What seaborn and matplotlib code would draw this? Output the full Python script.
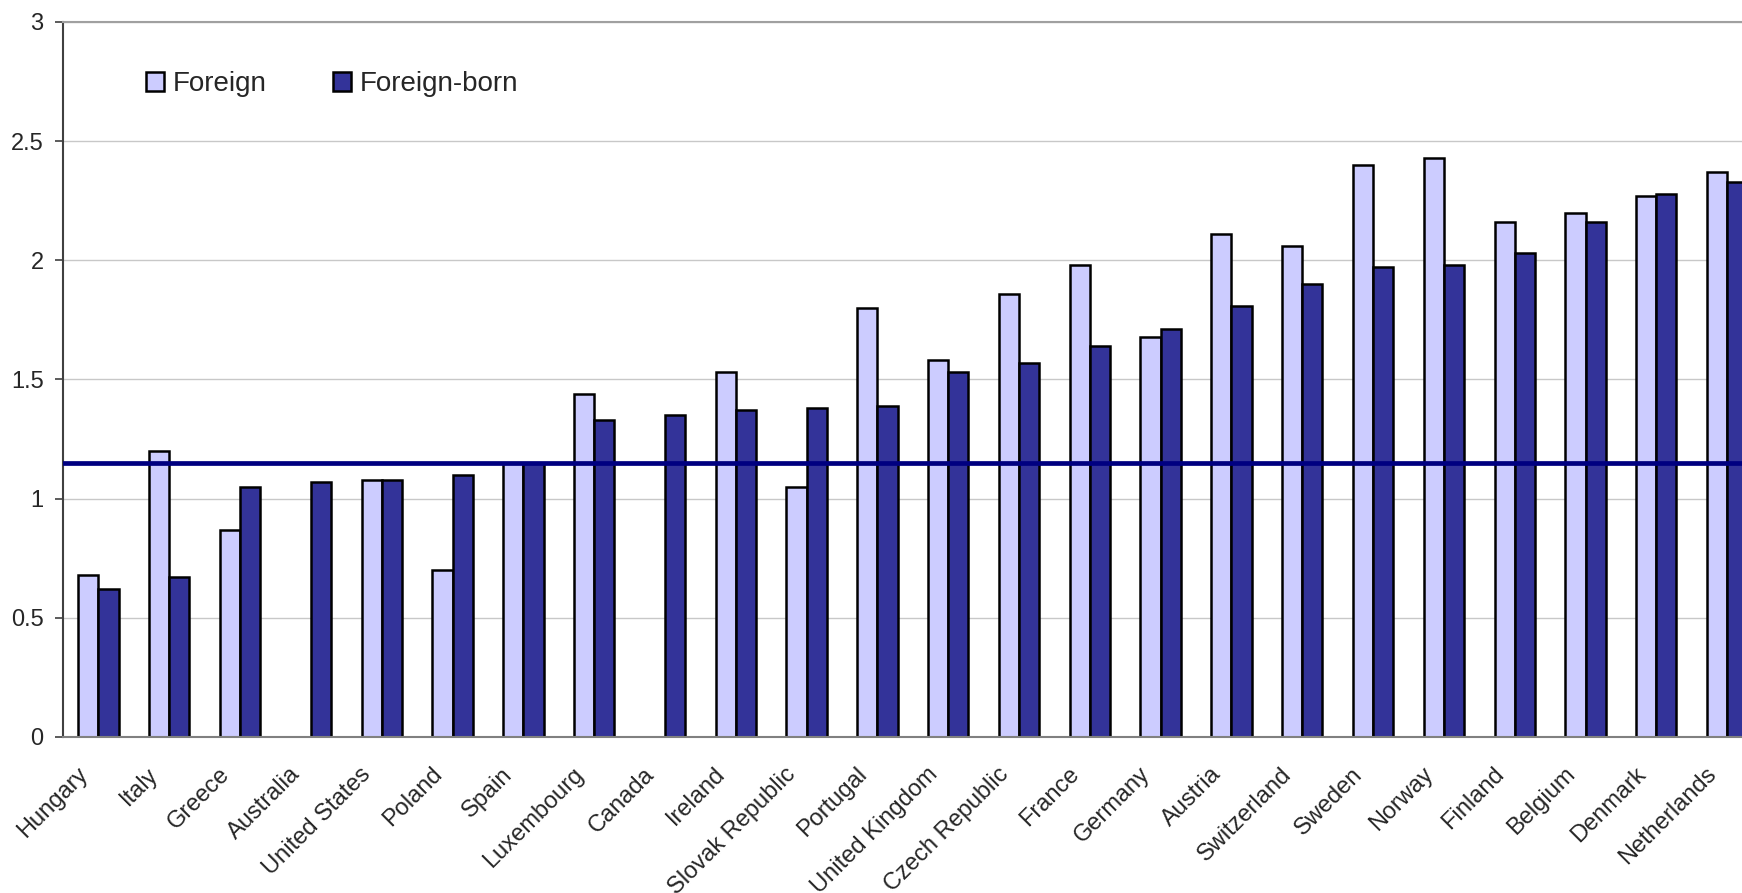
import pandas as pd
import numpy as np
import seaborn as sns
import matplotlib.pyplot as plt
from matplotlib.transforms import ScaledTranslation

countries = ['Hungary', 'Italy', 'Greece', 'Australia', 'United States', 'Poland',
             'Spain', 'Luxembourg', 'Canada', 'Ireland', 'Slovak Republic', 'Portugal',
             'United Kingdom', 'Czech Republic', 'France', 'Germany', 'Austria',
             'Switzerland', 'Sweden', 'Norway', 'Finland', 'Belgium', 'Denmark',
             'Netherlands']
foreign = [0.68, 1.20, 0.87, np.nan, 1.08, 0.70, 1.15, 1.44, np.nan, 1.53,
           1.05, 1.80, 1.58, 1.86, 1.98, 1.68, 2.11, 2.06, 2.40, 2.43,
           2.16, 2.20, 2.27, 2.37]
foreign_born = [0.62, 0.67, 1.05, 1.07, 1.08, 1.10, 1.15, 1.33, 1.35, 1.37,
                1.38, 1.39, 1.53, 1.57, 1.64, 1.71, 1.81, 1.90, 1.97, 1.98,
                2.03, 2.16, 2.28, 2.33]
series = ['Foreign', 'Foreign-born']
colors = ['#CCCCFF', '#333399']
reference_level = 1.15

df = pd.DataFrame({'country': countries, 'Foreign': foreign, 'Foreign-born': foreign_born})
long_df = df.melt(id_vars='country', var_name='series', value_name='value')

sns.set_style('white')
plt.rcParams['font.family'] = ['Liberation Sans', 'DejaVu Sans']

fig = plt.figure(figsize=(17.42, 8.93), dpi=100)
ax = fig.add_axes([0.0362, 0.1747, 0.9638, 0.8007])

sns.barplot(data=long_df, x='country', y='value', hue='series', hue_order=series,
            palette=colors, saturation=1, order=countries, width=0.57,
            edgecolor='black', linewidth=1.8, errorbar=None, ax=ax, zorder=2)

ax.axhline(reference_level, color='#000080', linewidth=3.4, zorder=3)

ax.set_ylim(0, 3)
ax.set_xlim(-0.5, 23.21)
ax.set_yticks(np.arange(0, 3.01, 0.5))
ax.set_yticklabels(['0', '0.5', '1', '1.5', '2', '2.5', '3'])
ax.yaxis.grid(True, color='#C8C8C8', linewidth=1, zorder=0)
ax.set_axisbelow(True)
ax.set_xlabel('')
ax.set_ylabel('')

ax.spines['left'].set_color('#404040')
ax.spines['left'].set_linewidth(1.5)
ax.spines['bottom'].set_color('#808080')
ax.spines['bottom'].set_linewidth(1.5)
ax.spines['top'].set_color('#A0A0A0')
ax.spines['top'].set_linewidth(1.5)
ax.spines['right'].set_visible(False)

ax.tick_params(axis='y', which='both', left=True, length=6, width=1.2,
               color='#404040', labelsize=17, pad=8)
ax.tick_params(axis='x', bottom=False, labelsize=17, pad=21)
shift = ScaledTranslation(-14 / 100, 0, fig.dpi_scale_trans)
for lab in ax.get_xticklabels():
    lab.set_rotation(45)
    lab.set_ha('right')
    lab.set_va('center')
    lab.set_rotation_mode('anchor')
    lab.set_transform(lab.get_transform() + shift)

ax.legend(loc='upper left', bbox_to_anchor=(0.0838, 0.92),
          bbox_transform=fig.transFigure, ncol=2, frameon=False,
          fontsize=20, handlelength=0.65, handleheight=0.65,
          handletextpad=0.3, columnspacing=2.4, borderpad=0, borderaxespad=0)

fig.savefig('out.png', dpi=100)
